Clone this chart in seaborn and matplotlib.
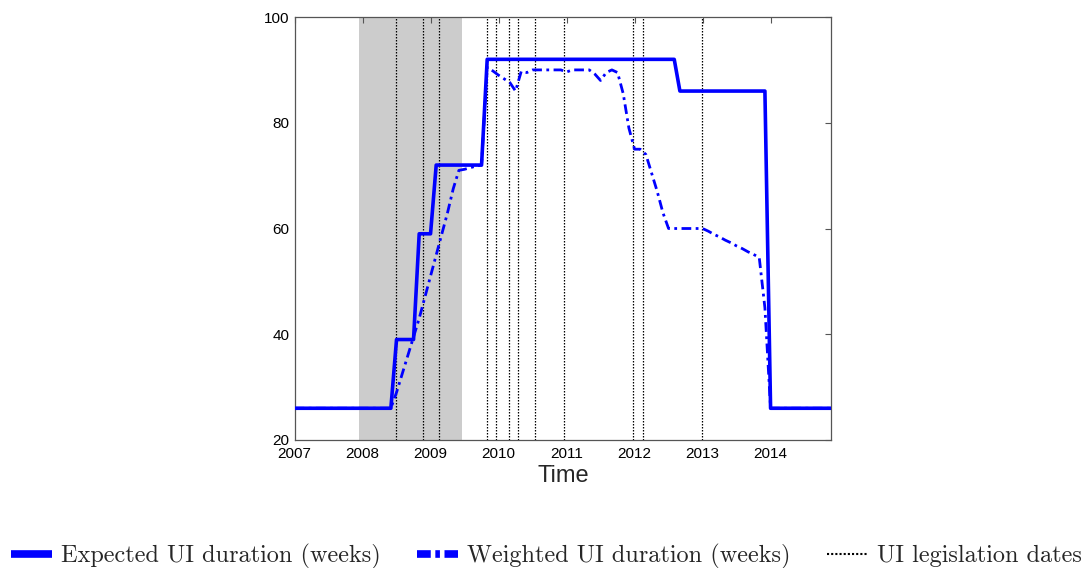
import numpy as np
import pandas as pd
import matplotlib
matplotlib.use("Agg")
import matplotlib.pyplot as plt
from matplotlib.lines import Line2D
import seaborn as sns

# monthly values, Jan 2007 .. Dec 2014
start_year = 2007
n_months = 96

# expected UI duration: level and how many months it lasts
expected_levels = [26, 39, 59, 72, 92, 86, 26]
expected_months = [18, 4, 3, 9, 34, 16, 12]

weighted = [26] * 18 + [
    29, 32.5, 36, 39.5, 43, 47, 51, 55, 59, 63, 67.5, 71, 71.2, 71.5, 71.8, 72,
    90.5, 89.8, 89, 88.3, 87.6, 86, 89.7, 89.5, 90, 90, 90, 90, 90, 90, 89.6, 90,
    90, 90, 90, 89.2, 88, 89.5, 90, 89.5, 85.5, 79, 75, 75, 74, 70.5, 67, 63,
    60, 60, 60, 60, 60, 60, 60, 59.5, 58.9, 58.4, 57.8, 57.3, 56.7, 56.2, 55.6, 55.1,
    54.5, 45,
] + [26] * 12

recession = (2007.955, 2009.46)
legislation_dates = [2008.49, 2008.89, 2009.125, 2009.835, 2009.956, 2010.147,
                     2010.28, 2010.54, 2010.956, 2011.97, 2012.125, 2012.99]

years = start_year + np.arange(n_months) / 12
df = pd.DataFrame({
    "year": years,
    "expected": np.repeat(expected_levels, expected_months),
    "weighted": weighted,
})

sns.set_theme(style="white")
plt.rcParams["font.family"] = ["Liberation Sans", "DejaVu Sans"]

fig = plt.figure(figsize=(10.84, 5.68), dpi=100)
ax = fig.add_axes([0.2717, 0.2254, 0.4950, 0.7446])

ax.axvspan(recession[0], recession[1], color="#cccccc", lw=0, zorder=0)
for d in legislation_dates:
    ax.axvline(d, color="black", lw=0.9, linestyle=(0, (1.2, 1.2)), zorder=1)

sns.lineplot(data=df, x="year", y="weighted", ax=ax, color="blue", lw=2.0,
             linestyle=(0, (3.5, 1.6, 1, 1.6)), zorder=3)
sns.lineplot(data=df, x="year", y="expected", ax=ax, color="blue", lw=2.6, zorder=4)

ax.set_xlim(2007, 2014.89)
ax.set_ylim(20, 100)
ax.set_xticks(range(2007, 2015))
ax.set_yticks(range(20, 101, 20))
ax.set_xlabel("Time", fontsize=17, labelpad=3)
ax.set_ylabel("")
ax.tick_params(direction="in", top=True, right=True, length=4, width=0.8,
               color="#555555", labelsize=11, labelcolor="black")
ax.tick_params(axis="x", pad=5)
ax.tick_params(axis="y", pad=3.5)
for s in ax.spines.values():
    s.set_color("#555555")
    s.set_linewidth(0.9)

handles = [
    Line2D([], [], color="blue", lw=5.5, solid_capstyle="butt"),
    Line2D([], [], color="blue", lw=5.5, dash_capstyle="butt",
           linestyle=(0, (1.8, 0.6, 0.6, 0.6))),
    Line2D([], [], color="black", lw=1.5, linestyle=(0, (1, 1))),
]
labels = ["Expected UI duration (weeks)", "Weighted UI duration (weeks)",
          "UI legislation dates"]
fig.legend(handles, labels, loc="lower center", bbox_to_anchor=(0.504, -0.04),
           ncol=3, frameon=False, prop={"family": "cmr10", "size": 17.5},
           handlelength=1.7, handletextpad=0.35, columnspacing=1.5)

fig.savefig("out.png", dpi=100)
